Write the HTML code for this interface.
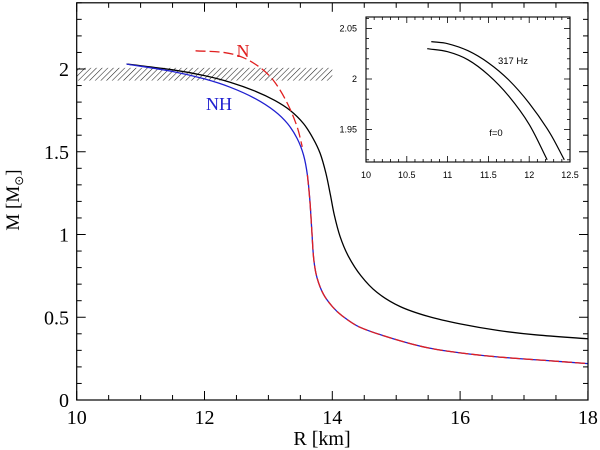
<!DOCTYPE html>
<html><head><meta charset="utf-8"><style>
html,body{margin:0;padding:0;background:#fff;}
svg{display:block;}
</style></head><body>
<svg id="chart" width="600" height="450" xmlns="http://www.w3.org/2000/svg">
<defs>
<pattern id="hatch" patternUnits="userSpaceOnUse" width="4" height="4" patternTransform="rotate(45)">
<line x1="0" y1="0" x2="0" y2="4" stroke="#222" stroke-width="1.1"/>
</pattern>
<clipPath id="mainclip"><rect x="76.7" y="2.8" width="511.3" height="397.2"/></clipPath>
<clipPath id="insetclip"><rect x="366" y="17" width="204" height="145"/></clipPath>
</defs>
<g id="main"></g>
<g id="inset"></g>
</svg>
<script>
// Main chart data
const blackR = [10.78,11.5,12.0,12.4,12.8,13.1,13.34,13.55,13.7,13.81,13.9,13.97,14.03,14.12,14.25,14.45,14.7,15.06,15.5,16.0,16.6,17.2,18];
const blackM = [2.03,1.995,1.96,1.92,1.865,1.81,1.75,1.67,1.58,1.49,1.37,1.24,1.12,0.99,0.87,0.75,0.65,0.565,0.505,0.46,0.42,0.393,0.37];
const nhR = [10.78,11.5,12.0,12.4,12.8,13.1,13.3,13.45,13.55,13.61,13.65,13.68,13.71,13.76,13.86,14.0,14.15,14.43,15.0,15.5,16.0,16.6,17.3,18];
const nhM = [2.03,1.985,1.94,1.89,1.82,1.745,1.67,1.58,1.48,1.36,1.2,1.02,0.85,0.74,0.64,0.565,0.51,0.44,0.365,0.315,0.285,0.26,0.24,0.22];
const nR = [11.86,12.3,12.6,12.9,13.1,13.3,13.45,13.53];
const nM = [2.11,2.10,2.07,2.00,1.92,1.79,1.65,1.53];
const bandLow = 1.93, bandHigh = 2.007, bandR = 14.0;
const xTicks = [10,12,14,16,18];
const yTicks = [0,0.5,1,1.5,2];
const yTickLabels = ["0","0.5","1","1.5","2"];
// Inset data
const f0R = [10.75,11.0,11.25,11.5,11.75,12.0,12.22];
const f0M = [2.030,2.027,2.019,2.004,1.983,1.955,1.920];
const hzR = [10.8,11.0,11.25,11.5,11.75,12.0,12.25,12.43];
const hzM = [2.037,2.035,2.028,2.016,1.999,1.976,1.947,1.920];
const inXTicks = [10,10.5,11,11.5,12,12.5];
const inXLabels = ["10","10.5","11","11.5","12","12.5"];
const inYTicks = [1.95,2,2.05];
const inYLabels = ["1.95","2","2.05"];

const NS="http://www.w3.org/2000/svg";
function mk(tag,attrs,parent,text){const e=document.createElementNS(NS,tag);for(const k in attrs)e.setAttribute(k,attrs[k]);if(text!==undefined)e.textContent=text;parent.appendChild(e);return e;}
const X=r=>76.7+(r-10)*63.9;
const Y=m=>400-m*165.5;
const main=document.getElementById('main');

const band=mk('rect',{x:X(10),y:Y(bandHigh),width:X(bandR)-X(10),height:Y(bandLow)-Y(bandHigh),fill:'url(#hatch)'},main);



function path(rs,ms,fx,fy){
  const p=rs.map((r,i)=>[fx(r),fy(ms[i])]);
  let d='M'+p[0][0]+','+p[0][1];
  for(let i=0;i<p.length-1;i++){
    const p0=p[i-1]||p[i],p1=p[i],p2=p[i+1],p3=p[i+2]||p2;
    const d1=Math.hypot(p2[0]-p1[0],p2[1]-p1[1]);
    const da=Math.hypot(p2[0]-p0[0],p2[1]-p0[1])||1, db=Math.hypot(p3[0]-p1[0],p3[1]-p1[1])||1;
    const s1=d1/da/3, s2=d1/db/3;
    const c1=[p1[0]+(p2[0]-p0[0])*s1,p1[1]+(p2[1]-p0[1])*s1];
    const c2=[p2[0]-(p3[0]-p1[0])*s2,p2[1]-(p3[1]-p1[1])*s2];
    d+=` C${c1[0]},${c1[1]} ${c2[0]},${c2[1]} ${p2[0]},${p2[1]}`;
  }
  return d;
}
const g=mk('g',{'clip-path':'url(#mainclip)'},main);
const cb=mk('path',{d:path(blackR,blackM,X,Y),fill:'none',stroke:'#000','stroke-width':1.3},g);


const cnh=mk('path',{d:path(nhR,nhM,X,Y),fill:'none',stroke:'#2020d0','stroke-width':1.3},g);


const cnh2=mk('path',{d:path(nhR.slice(9),nhM.slice(9),X,Y),fill:'none',stroke:'#e02020','stroke-width':1.3,'stroke-dasharray':'10,3'},g);


const cn=mk('path',{d:path(nR,nM,X,Y),fill:'none',stroke:'#e02020','stroke-width':1.3,'stroke-dasharray':'10,4'},g);



const fr=mk('rect',{x:76.7,y:2.8,width:511.3,height:397.2,fill:'none',stroke:'#000','stroke-width':1.2},main);


for(let r=10;r<=18.001;r+=0.5){
  const major=Math.abs(r-Math.round(r/2)*2)<1e-6, L=major?9:5;
  mk('line',{x1:X(r),y1:400,x2:X(r),y2:400-L,stroke:'#000'},main);
  mk('line',{x1:X(r),y1:2.8,x2:X(r),y2:2.8+L,stroke:'#000'},main);
}
for(let i=0;i<=24;i++){
  const m=i*0.1, major=i%5===0, L=major?9:5;
  mk('line',{x1:76.7,y1:Y(m),x2:76.7+L,y2:Y(m),stroke:'#000'},main);
  mk('line',{x1:588,y1:Y(m),x2:588-L,y2:Y(m),stroke:'#000'},main);
}
const serif='font-family:"Liberation Serif",serif;';
xTicks.forEach(t=>{const e=mk('text',{x:X(t),y:424,'text-anchor':'middle',style:serif+'font-size:20px'},main,String(t));

});
yTicks.forEach((t,i)=>{const e=mk('text',{x:69,y:Y(t)+7,'text-anchor':'end',style:serif+'font-size:20px'},main,yTickLabels[i]);

});
const xt=mk('text',{x:322,y:445,'text-anchor':'middle',style:serif+'font-size:20px'},main,'R [km]');


const yt=mk('text',{x:0,y:0,'text-anchor':'middle',transform:'translate(19,200) rotate(-90)',style:serif+'font-size:19px'},main);
yt.innerHTML='M [M<tspan font-size="12" dy="4">⊙</tspan><tspan dy="-4">]</tspan>';


const ln=mk('text',{x:243,y:57,'text-anchor':'middle',fill:'#e02020',style:serif+'font-size:18px'},main,'N');


const lnh=mk('text',{x:219,y:110,'text-anchor':'middle',fill:'#2020d0',style:serif+'font-size:18px'},main,'NH');



const inset=document.getElementById('inset');
const IX=r=>366+(r-10)*(204/2.5);
const IY=m=>79-(m-2)*(50.5/0.05);
const ir=mk('rect',{x:366,y:17,width:204,height:145,fill:'#fff',stroke:'#000','stroke-width':1.1},inset);


const ig=mk('g',{'clip-path':'url(#insetclip)'},inset);
const i1=mk('path',{d:path(f0R,f0M,IX,IY),fill:'none',stroke:'#000','stroke-width':1.2},ig);


const i2=mk('path',{d:path(hzR,hzM,IX,IY),fill:'none',stroke:'#000','stroke-width':1.2},ig);


for(let r=10;r<=12.5001;r+=0.1){
  const major=Math.abs(r*2-Math.round(r*2))<1e-6,L=major?6:3;
  mk('line',{x1:IX(r),y1:162,x2:IX(r),y2:162-L,stroke:'#000','stroke-width':0.8},inset);
  mk('line',{x1:IX(r),y1:17,x2:IX(r),y2:17+L,stroke:'#000','stroke-width':0.8},inset);
}
for(let k=0;k<=14;k++){
  const m=1.92+k*0.01,major=k%5===3,L=major?6:3;
  if(IY(m)<17||IY(m)>162)continue;
  mk('line',{x1:366,y1:IY(m),x2:366+L,y2:IY(m),stroke:'#000','stroke-width':0.8},inset);
  mk('line',{x1:570,y1:IY(m),x2:570-L,y2:IY(m),stroke:'#000','stroke-width':0.8},inset);
}
const sans='font-family:"Liberation Sans",sans-serif;';
inXTicks.forEach((t,i)=>{const e=mk('text',{x:IX(t),y:178,'text-anchor':'middle',style:sans+'font-size:9px'},inset,inXLabels[i]);

});
inYTicks.forEach((t,i)=>{const e=mk('text',{x:357,y:IY(t)+3,'text-anchor':'end',style:sans+'font-size:9px'},inset,inYLabels[i]);

});
const l317=mk('text',{x:513,y:64,'text-anchor':'middle',style:sans+'font-size:9.5px'},inset,'317 Hz');


const lf0=mk('text',{x:496,y:136,'text-anchor':'middle',style:sans+'font-size:9.5px'},inset,'f=0');


</script>
</body></html>
